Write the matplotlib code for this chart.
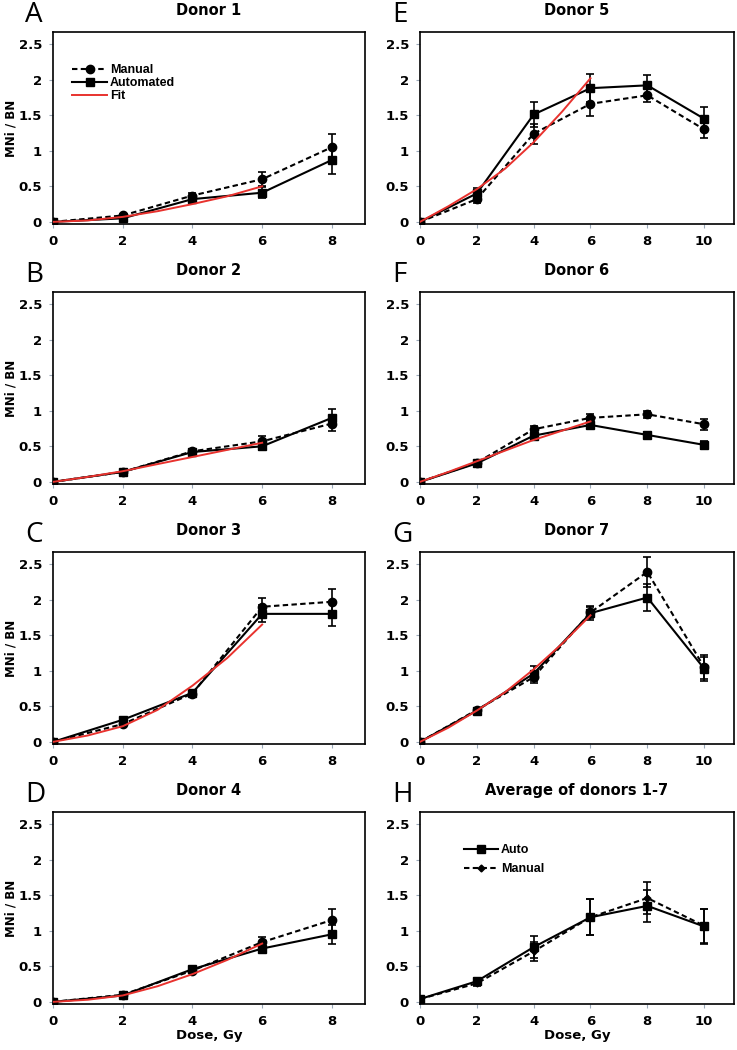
import matplotlib
matplotlib.use("Agg")
import matplotlib.pyplot as plt

plt.rcParams["font.family"] = ["DejaVu Sans"]

dose8 = [0, 2, 4, 6, 8]
dose10 = [0, 2, 4, 6, 8, 10]
fit_dose = [0, 1, 2, 3, 4, 5, 6]

# Donor 1
d1_manual = [0, 0.09, 0.37, 0.60, 1.05]
d1_manual_err = [0, 0.02, 0.03, 0.10, 0.19]
d1_auto = [0, 0.05, 0.32, 0.41, 0.87]
d1_auto_err = [0, 0.02, 0.03, 0.08, 0.20]
d1_fit = [0, 0.02, 0.07, 0.15, 0.25, 0.36, 0.50]

# Donor 2
d2_manual = [0, 0.14, 0.43, 0.57, 0.82]
d2_manual_err = [0, 0.02, 0.03, 0.07, 0.10]
d2_auto = [0, 0.14, 0.42, 0.50, 0.90]
d2_auto_err = [0, 0.02, 0.03, 0.05, 0.12]
d2_fit = [0, 0.07, 0.15, 0.25, 0.35, 0.45, 0.55]

# Donor 3
d3_manual = [0, 0.25, 0.68, 1.90, 1.97]
d3_manual_err = [0, 0.02, 0.03, 0.12, 0.18]
d3_auto = [0, 0.31, 0.69, 1.80, 1.80]
d3_auto_err = [0, 0.03, 0.03, 0.12, 0.17]
d3_fit = [0, 0.09, 0.22, 0.45, 0.79, 1.18, 1.65]

# Donor 4
d4_manual = [0, 0.10, 0.44, 0.84, 1.15]
d4_manual_err = [0, 0.02, 0.03, 0.07, 0.15]
d4_auto = [0, 0.09, 0.46, 0.75, 0.95]
d4_auto_err = [0, 0.02, 0.03, 0.05, 0.13]
d4_fit = [0, 0.03, 0.09, 0.22, 0.39, 0.59, 0.82]

# Donor 5
d5_manual = [0, 0.32, 1.24, 1.66, 1.78, 1.30]
d5_manual_err = [0, 0.05, 0.14, 0.17, 0.10, 0.12]
d5_auto = [0, 0.40, 1.51, 1.88, 1.92, 1.45]
d5_auto_err = [0, 0.07, 0.17, 0.20, 0.14, 0.17]
d5_fit = [0, 0.22, 0.46, 0.75, 1.12, 1.55, 2.02]

# Donor 6
d6_manual = [0, 0.27, 0.74, 0.90, 0.95, 0.81]
d6_manual_err = [0, 0.02, 0.04, 0.05, 0.05, 0.08]
d6_auto = [0, 0.26, 0.65, 0.80, 0.66, 0.52]
d6_auto_err = [0, 0.02, 0.03, 0.04, 0.04, 0.06]
d6_fit = [0, 0.14, 0.29, 0.44, 0.59, 0.72, 0.85]

# Donor 7
d7_manual = [0, 0.45, 0.91, 1.82, 2.39, 1.05]
d7_manual_err = [0, 0.03, 0.08, 0.08, 0.21, 0.17]
d7_auto = [0, 0.44, 0.96, 1.81, 2.03, 1.03]
d7_auto_err = [0, 0.03, 0.10, 0.10, 0.19, 0.17]
d7_fit = [0, 0.20, 0.44, 0.70, 1.02, 1.38, 1.78]

# Average of donors 1-7
avg_auto = [0.04, 0.29, 0.77, 1.19, 1.35, 1.06]
avg_auto_err = [0.01, 0.04, 0.15, 0.25, 0.22, 0.25]
avg_manual = [0.04, 0.26, 0.71, 1.19, 1.46, 1.07]
avg_manual_err = [0.01, 0.03, 0.13, 0.25, 0.23, 0.24]

panels = [
    ("A", "Donor 1", dose8, d1_manual, d1_manual_err, d1_auto, d1_auto_err, d1_fit),
    ("B", "Donor 2", dose8, d2_manual, d2_manual_err, d2_auto, d2_auto_err, d2_fit),
    ("C", "Donor 3", dose8, d3_manual, d3_manual_err, d3_auto, d3_auto_err, d3_fit),
    ("D", "Donor 4", dose8, d4_manual, d4_manual_err, d4_auto, d4_auto_err, d4_fit),
    ("E", "Donor 5", dose10, d5_manual, d5_manual_err, d5_auto, d5_auto_err, d5_fit),
    ("F", "Donor 6", dose10, d6_manual, d6_manual_err, d6_auto, d6_auto_err, d6_fit),
    ("G", "Donor 7", dose10, d7_manual, d7_manual_err, d7_auto, d7_auto_err, d7_fit),
]

W, H = 737, 1050
fig = plt.figure(figsize=(W / 100, H / 100), dpi=100)

row_tops = [32, 292, 552, 812]
row_h = 192
col_x = [(53, 365), (420, 734)]
letter_x = [25, 392]

RED = "#e8322e"
LW = 1.5
DASH = (2.6, 1.6)
LEG_FONT = {"size": 9, "weight": "bold", "family": "Liberation Sans"}


def make_ax(col, row):
    x0, x1 = col_x[col]
    top = row_tops[row]
    ax = fig.add_axes([x0 / W, 1 - (top + row_h) / H, (x1 - x0) / W, row_h / H])
    ax.set_ylim(-0.03, 2.67)
    ax.set_yticks([0, 0.5, 1, 1.5, 2, 2.5])
    ax.set_yticklabels(["0", "0.5", "1", "1.5", "2", "2.5"])
    if col == 0:
        ax.set_xlim(0, 8.95)
        ax.set_xticks(dose8)
    else:
        ax.set_xlim(0, 11.05)
        ax.set_xticks(dose10)
    for s in ax.spines.values():
        s.set_linewidth(1.2)
    ax.tick_params(direction="out", length=3, width=0.8, color="#9aa8b8",
                   labelsize=9.5, pad=5)
    for lab in ax.get_xticklabels() + ax.get_yticklabels():
        lab.set_fontweight("bold")
    if col == 0:
        ax.set_ylabel("MNi / BN", fontsize=8.5, fontweight="bold")
        ax.yaxis.set_label_coords(-0.115, 0.5)
    if row == 3:
        ax.set_xlabel("Dose, Gy", fontsize=9.5, fontweight="bold", labelpad=1)
    fig.text(letter_x[col] / W, 1 - (top - 10) / H, "ABCDEFGH"[col * 4 + row],
             fontsize=20, family=["Open Sans", "DejaVu Sans"], va="baseline", ha="left")
    return ax


for i, (letter, title, dose, man, man_err, auto, auto_err, fit) in enumerate(panels):
    col, row = divmod(i, 4)
    ax = make_ax(col, row)
    ax.set_title(title, fontsize=10.5, fontweight="bold", pad=12)
    ax.errorbar(dose, man, yerr=man_err, fmt="none", ecolor="black",
                elinewidth=1.2, capsize=3, capthick=1.2, zorder=2)
    ax.errorbar(dose, auto, yerr=auto_err, fmt="none", ecolor="black",
                elinewidth=1.2, capsize=3, capthick=1.2, zorder=2)
    lm, = ax.plot(dose, man, color="black", lw=LW, ls=(0, DASH), marker="o",
                  ms=6, label="Manual", zorder=3)
    la, = ax.plot(dose, auto, color="black", lw=LW, marker="s", ms=5.5,
                  label="Automated", zorder=3)
    lf, = ax.plot(fit_dose, fit, color=RED, lw=1.4, label="Fit", zorder=4)
    if i == 0:
        ax.legend(handles=[lm, la, lf], loc="upper left",
                  bbox_to_anchor=(0.045, 0.86), frameon=False,
                  handlelength=2.8, handletextpad=0.25, labelspacing=0.1,
                  borderaxespad=0, prop=LEG_FONT)

# Average panel
ax = make_ax(1, 3)
ax.set_title("Average of donors 1-7", fontsize=10.5, fontweight="bold", pad=12)
ax.errorbar(dose10, avg_manual, yerr=avg_manual_err, fmt="none", ecolor="black",
            elinewidth=1.2, capsize=3, capthick=1.2, zorder=2)
ax.errorbar(dose10, avg_auto, yerr=avg_auto_err, fmt="none", ecolor="black",
            elinewidth=1.2, capsize=3, capthick=1.2, zorder=2)
la, = ax.plot(dose10, avg_auto, color="black", lw=LW, marker="s", ms=5.5,
              label="Auto", zorder=3)
lm, = ax.plot(dose10, avg_manual, color="black", lw=LW, ls=(0, DASH), marker="D",
              ms=3.5, label="Manual", zorder=3)
ax.legend(handles=[la, lm], loc="upper left", bbox_to_anchor=(0.125, 0.86),
          frameon=False, handlelength=2.7, handletextpad=0.25, labelspacing=0.6,
          borderaxespad=0, prop=LEG_FONT)

fig.savefig("out.png", dpi=100)
